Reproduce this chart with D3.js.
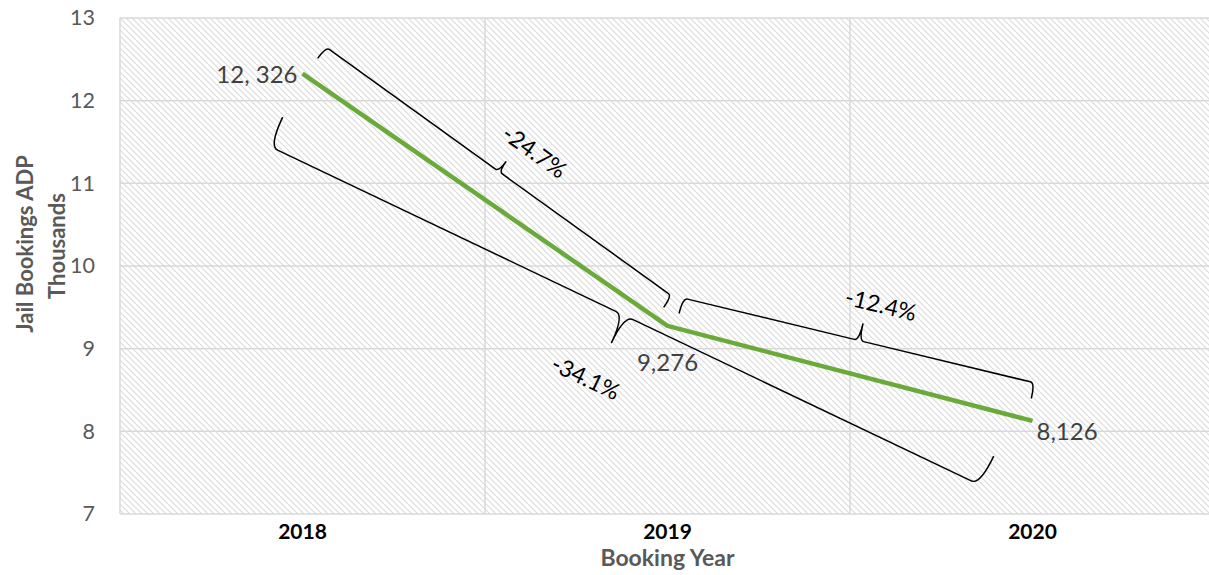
<!DOCTYPE html>
<html>
<head>
<meta charset="utf-8">
<script src="https://cdn.jsdelivr.net/npm/d3@7/dist/d3.min.js"></script>
<style>
  html, body { margin: 0; padding: 0; background: #fff; }
  svg { display: block; font-family: Lato, "Open Sans", sans-serif; }
</style>
</head>
<body>
<svg id="chart" width="1209" height="575"></svg>
<script>
// Jail bookings average daily population (thousands) by booking year
const years = ["2018", "2019", "2020"];
const adp = [12.326, 9.276, 8.126];
const adpLabels = ["12, 326", "9,276", "8,126"];
const yTicks = [7, 8, 9, 10, 11, 12, 13];

// Percent-change brackets: endpoints and label anchor in (year, thousands)
const changeLabels = ["-24.7%", "-12.4%", "-34.1%"];
const changeFrom = [[2018.064, 12.649], [2019.042, 9.613], [2017.908, 11.452]];
const changeTo = [[2019.012, 9.637], [2020.007, 8.585], [2019.856, 7.351]];
const changeLabelAt = [[2018.637, 11.391], [2019.585, 9.540], [2018.777, 8.657]];

const svg = d3.select("#chart");
const plot = { left: 120, right: 1215, top: 18, bottom: 514 };

const x = d3.scaleBand().domain(years).range([plot.left, plot.right]);
const y = d3.scaleLinear().domain([7, 13]).range([plot.bottom, plot.top]);
const bw = x.bandwidth();
const xc = d => x(d) + bw / 2;
// continuous year axis through the category centres, for annotations
const xYear = d3.scaleLinear().domain([2018, 2020]).range([xc("2018"), xc("2020")]);

// diagonal hatch fill for the plot area
const defs = svg.append("defs");
const pat = defs.append("pattern")
  .attr("id", "hatch").attr("patternUnits", "userSpaceOnUse")
  .attr("width", 6).attr("height", 6);
pat.append("rect").attr("width", 6).attr("height", 6).attr("fill", "#fff");
pat.append("path")
  .attr("d", "M-1,-1 L7,7 M5,-1 L7,1 M-1,5 L1,7")
  .attr("stroke", "#dcdcdc").attr("stroke-width", 1.2);

svg.append("rect")
  .attr("x", plot.left).attr("y", plot.top)
  .attr("width", plot.right - plot.left).attr("height", plot.bottom - plot.top)
  .attr("fill", "url(#hatch)");

// gridlines
const grid = svg.append("g").attr("stroke", "#d9d9d9").attr("stroke-width", 1.5);
grid.selectAll("line.h").data(yTicks).join("line").attr("class", "h")
  .attr("x1", plot.left).attr("x2", plot.right)
  .attr("y1", d => y(d)).attr("y2", d => y(d));
grid.selectAll("line.v").data(years.concat(["end"])).join("line").attr("class", "v")
  .attr("x1", (d, i) => plot.left + i * bw).attr("x2", (d, i) => plot.left + i * bw)
  .attr("y1", plot.top).attr("y2", plot.bottom);

// y axis labels
const yAxis = svg.append("g").attr("transform", `translate(${plot.left - 25},0)`)
  .call(d3.axisLeft(y).tickValues(yTicks).tickSize(0).tickPadding(0).tickFormat(d3.format("d")));
yAxis.select(".domain").remove();
yAxis.selectAll("text").attr("font-family", "Lato, sans-serif").attr("font-size", 21.5)
  .attr("fill", "#595959");

// x axis labels
const xAxis = svg.append("g").attr("transform", `translate(0,${plot.bottom})`)
  .call(d3.axisBottom(x).tickSize(0).tickPadding(10));
xAxis.select(".domain").remove();
xAxis.selectAll("text").attr("font-family", "Lato, sans-serif").attr("font-size", 21)
  .attr("font-weight", "bold").attr("fill", "#000");

// axis titles
svg.append("text").attr("x", xc("2019")).attr("y", 566)
  .attr("text-anchor", "middle").attr("font-size", 23).attr("font-weight", "bold")
  .attr("fill", "#595959").text("Booking Year");
const yTitle = svg.append("g").attr("font-size", 22).attr("font-weight", "bold")
  .attr("fill", "#595959").attr("text-anchor", "middle");
yTitle.append("text").attr("transform", "translate(24,244) rotate(-90)")
  .attr("dominant-baseline", "central").text("Jail Bookings ADP");
yTitle.append("text").attr("transform", "translate(56,246) rotate(-90)")
  .attr("dominant-baseline", "central").text("Thousands");

// curly bracket between two points, hooks on one side and a tick on the other
function bracePath(p0, p1, hook, tick, side) {
  const dx = p1[0] - p0[0], dy = p1[1] - p0[1];
  const L = Math.hypot(dx, dy);
  const ux = dx / L, uy = dy / L;
  const nx = uy * side, ny = -ux * side;
  const P = (s, v) => [p0[0] + ux * s + nx * v, p0[1] + uy * s + ny * v];
  const r = Math.max(3, hook * 0.3);
  const m = L / 2;
  const pt = a => a[0].toFixed(2) + "," + a[1].toFixed(2);
  return "M" + pt(P(0, -hook)) +
    "Q" + pt(P(0, 0)) + " " + pt(P(r, 0)) +
    "L" + pt(P(m - r, 0)) +
    "Q" + pt(P(m, 0)) + " " + pt(P(m, tick)) +
    "Q" + pt(P(m, 0)) + " " + pt(P(m + r, 0)) +
    "L" + pt(P(L - r, 0)) +
    "Q" + pt(P(L, 0)) + " " + pt(P(L, -hook));
}
const braceHook = [14, 16, 32];
const braceTick = [12, 17, 30];
const braceSide = [1, 1, -1];

const ann = svg.append("g");
changeLabels.forEach((lab, i) => {
  const p0 = [xYear(changeFrom[i][0]), y(changeFrom[i][1])];
  const p1 = [xYear(changeTo[i][0]), y(changeTo[i][1])];
  ann.append("path").attr("d", bracePath(p0, p1, braceHook[i], braceTick[i], braceSide[i]))
    .attr("fill", "none").attr("stroke", "#000").attr("stroke-width", 1.5)
    .attr("stroke-linejoin", "round");
  const ang = Math.atan2(p1[1] - p0[1], p1[0] - p0[0]) * 180 / Math.PI;
  ann.append("text")
    .attr("transform", `translate(${xYear(changeLabelAt[i][0])},${y(changeLabelAt[i][1])}) rotate(${ang})`)
    .attr("text-anchor", "middle").attr("dominant-baseline", "central")
    .attr("font-size", 23).attr("fill", "#000").text(lab);
});

// ADP line
const line = d3.line().x((d, i) => xc(years[i])).y(d => y(d));
svg.append("path").datum(adp).attr("d", line)
  .attr("fill", "none").attr("stroke", "#6aaa3a").attr("stroke-width", 4.5)
  .attr("stroke-linejoin", "round");

// value labels: left, below, right
const labAnchor = ["end", "middle", "start"];
const labDx = [-5, 0, 4];
const labDy = [9, 45, 19];
svg.append("g").selectAll("text").data(adp).join("text")
  .attr("x", (d, i) => xc(years[i]) + labDx[i])
  .attr("y", (d, i) => y(d) + labDy[i])
  .attr("text-anchor", (d, i) => labAnchor[i])
  .attr("font-size", 24).attr("fill", "#404040")
  .text((d, i) => adpLabels[i]);
</script>
</body>
</html>
